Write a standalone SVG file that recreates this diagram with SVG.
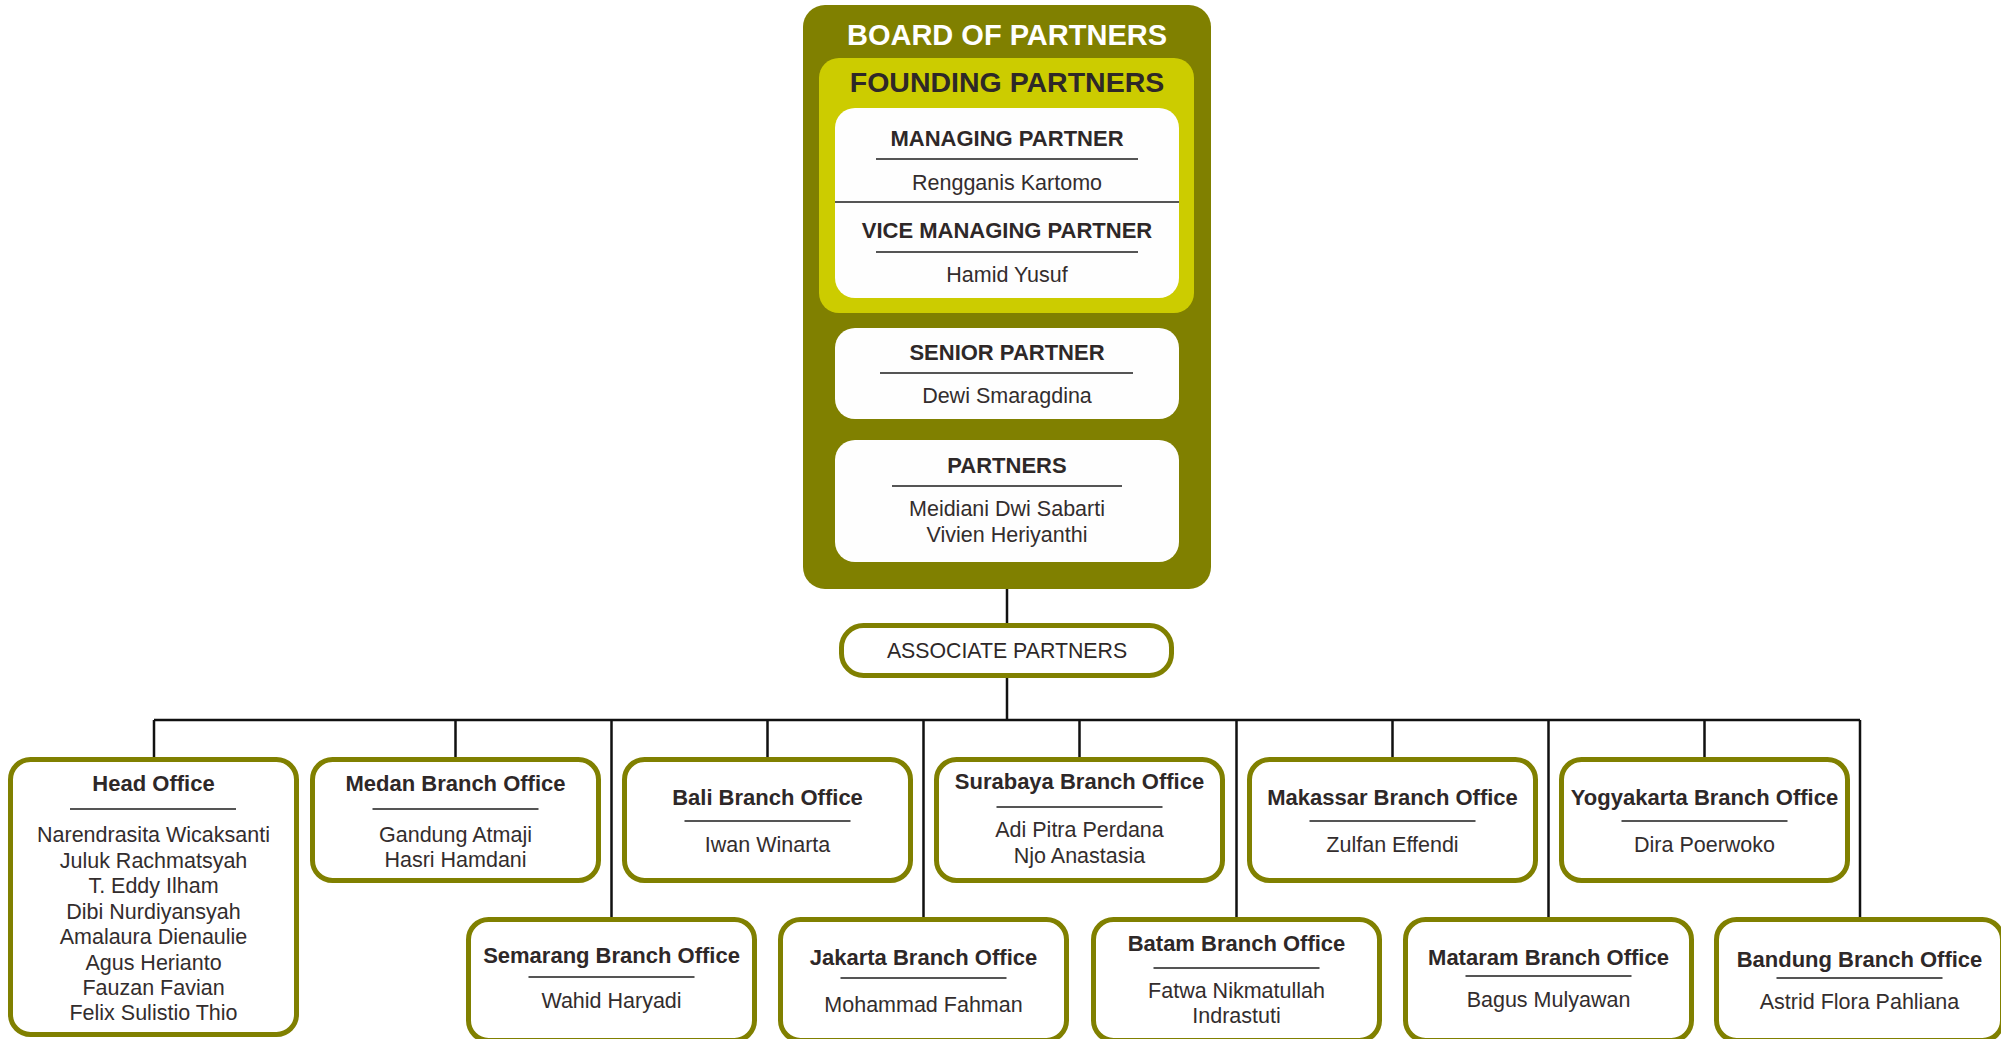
<svg xmlns="http://www.w3.org/2000/svg" width="2001" height="1039" viewBox="0 0 2001 1039">
<style>
.t{font-family:"Liberation Sans",Arial,sans-serif;text-anchor:middle;fill:#2e2828}
.h{font-weight:bold;font-size:22px}
.n{font-size:21.5px;fill:#332d2d}
.box{fill:#fff;stroke:#808000;stroke-width:5}
.wb{fill:#fefefe}
.ul{stroke:#555;stroke-width:2}
.con{stroke:#111;stroke-width:2.5;fill:none}
</style>
<rect width="2001" height="1039" fill="#fff"/>
<g id="connectors">
<path class="con" d="M1007 589V624M1007 677V720M154 720H1860M154 720V758M455.5 720V758M767.5 720V758M1079.5 720V758M1392.5 720V758M1704.5 720V758M611.5 720V918M923.5 720V918M1236.5 720V918M1548.5 720V918M1860 720V918"/>
</g>
<g id="board">
<rect x="803" y="5" width="408" height="584" rx="22" fill="#808000"/>
<text class="t" x="1007" y="45" style="font-weight:bold;font-size:29px;fill:#fff">BOARD OF PARTNERS</text>
</g>
<g id="founding">
<rect x="819" y="58" width="375" height="255" rx="20" fill="#cccc00"/>
<text class="t" x="1007" y="92" style="font-weight:bold;font-size:28.5px">FOUNDING PARTNERS</text>
<rect class="wb" x="835" y="108" width="344" height="190" rx="20"/>
<text class="t h" x="1007" y="146">MANAGING PARTNER</text>
<line class="ul" x1="876" y1="159" x2="1138" y2="159"/>
<text class="t n" x="1007" y="190">Rengganis Kartomo</text>
<line x1="835" y1="202" x2="1179" y2="202" stroke="#555" stroke-width="2"/>
<text class="t h" x="1007" y="238">VICE MANAGING PARTNER</text>
<line class="ul" x1="876" y1="252" x2="1138" y2="252"/>
<text class="t n" x="1007" y="282">Hamid Yusuf</text>
</g>
<g id="senior">
<rect class="wb" x="835" y="328" width="344" height="91" rx="20"/>
<text class="t h" x="1007" y="360">SENIOR PARTNER</text>
<line class="ul" x1="880" y1="373" x2="1133" y2="373"/>
<text class="t n" x="1007" y="403">Dewi Smaragdina</text>
</g>
<g id="partners">
<rect class="wb" x="835" y="440" width="344" height="122" rx="20"/>
<text class="t h" x="1007" y="473">PARTNERS</text>
<line class="ul" x1="892" y1="486" x2="1122" y2="486"/>
<text class="t n" x="1007" y="516">Meidiani Dwi Sabarti</text>
<text class="t n" x="1007" y="542">Vivien Heriyanthi</text>
</g>
<g id="associate">
<rect class="box" x="841.5" y="625.5" width="330" height="50" rx="22"/>
<text class="t" x="1007" y="658" style="font-size:21.3px">ASSOCIATE PARTNERS</text>
</g>
<g id="head-office">
<rect class="box" x="10.5" y="759.5" width="286" height="275" rx="20"/>
<text class="t h" x="153.5" y="791">Head Office</text>
<line class="ul" x1="70" y1="809" x2="236" y2="809"/>
<text class="t n" x="153.5" y="842">Narendrasita Wicaksanti</text>
<text class="t n" x="153.5" y="867.5">Juluk Rachmatsyah</text>
<text class="t n" x="153.5" y="893">T. Eddy Ilham</text>
<text class="t n" x="153.5" y="918.5">Dibi Nurdiyansyah</text>
<text class="t n" x="153.5" y="944">Amalaura Dienaulie</text>
<text class="t n" x="153.5" y="969.5">Agus Herianto</text>
<text class="t n" x="153.5" y="995">Fauzan Favian</text>
<text class="t n" x="153.5" y="1020">Felix Sulistio Thio</text>
</g>
<g id="medan">
<rect class="box" x="312.5" y="759.5" width="286" height="121" rx="20"/>
<text class="t h" x="455.5" y="791">Medan Branch Office</text>
<line class="ul" x1="372.5" y1="809" x2="538.5" y2="809"/>
<text class="t n" x="455.5" y="842">Gandung Atmaji</text>
<text class="t n" x="455.5" y="867">Hasri Hamdani</text>
</g>
<g id="bali">
<rect class="box" x="624.5" y="759.5" width="286" height="121" rx="20"/>
<text class="t h" x="767.5" y="805">Bali Branch Office</text>
<line class="ul" x1="684.5" y1="821" x2="850.5" y2="821"/>
<text class="t n" x="767.5" y="852">Iwan Winarta</text>
</g>
<g id="surabaya">
<rect class="box" x="936.5" y="759.5" width="286" height="121" rx="20"/>
<text class="t h" x="1079.5" y="789">Surabaya Branch Office</text>
<line class="ul" x1="996.5" y1="807" x2="1162.5" y2="807"/>
<text class="t n" x="1079.5" y="837">Adi Pitra Perdana</text>
<text class="t n" x="1079.5" y="863">Njo Anastasia</text>
</g>
<g id="makassar">
<rect class="box" x="1249.5" y="759.5" width="286" height="121" rx="20"/>
<text class="t h" x="1392.5" y="805">Makassar Branch Office</text>
<line class="ul" x1="1309.5" y1="821" x2="1475.5" y2="821"/>
<text class="t n" x="1392.5" y="852">Zulfan Effendi</text>
</g>
<g id="yogyakarta">
<rect class="box" x="1561.5" y="759.5" width="286" height="121" rx="20"/>
<text class="t h" x="1704.5" y="805">Yogyakarta Branch Office</text>
<line class="ul" x1="1621.5" y1="821" x2="1787.5" y2="821"/>
<text class="t n" x="1704.5" y="852">Dira Poerwoko</text>
</g>
<g id="semarang">
<rect class="box" x="468.5" y="919.5" width="286" height="121" rx="20"/>
<text class="t h" x="611.5" y="963">Semarang Branch Office</text>
<line class="ul" x1="528.5" y1="977" x2="694.5" y2="977"/>
<text class="t n" x="611.5" y="1008">Wahid Haryadi</text>
</g>
<g id="jakarta">
<rect class="box" x="780.5" y="919.5" width="286" height="121" rx="20"/>
<text class="t h" x="923.5" y="965">Jakarta Branch Office</text>
<line class="ul" x1="840.5" y1="978" x2="1006.5" y2="978"/>
<text class="t n" x="923.5" y="1012">Mohammad Fahman</text>
</g>
<g id="batam">
<rect class="box" x="1093.5" y="919.5" width="286" height="121" rx="20"/>
<text class="t h" x="1236.5" y="951">Batam Branch Office</text>
<line class="ul" x1="1153.5" y1="968" x2="1319.5" y2="968"/>
<text class="t n" x="1236.5" y="998">Fatwa Nikmatullah</text>
<text class="t n" x="1236.5" y="1023">Indrastuti</text>
</g>
<g id="mataram">
<rect class="box" x="1405.5" y="919.5" width="286" height="121" rx="20"/>
<text class="t h" x="1548.5" y="965">Mataram Branch Office</text>
<line class="ul" x1="1465.5" y1="976" x2="1631.5" y2="976"/>
<text class="t n" x="1548.5" y="1007">Bagus Mulyawan</text>
</g>
<g id="bandung">
<rect class="box" x="1716.5" y="919.5" width="286" height="121" rx="20"/>
<text class="t h" x="1859.5" y="967">Bandung Branch Office</text>
<line class="ul" x1="1776.5" y1="978" x2="1942.5" y2="978"/>
<text class="t n" x="1859.5" y="1009">Astrid Flora Pahliana</text>
</g>
</svg>
